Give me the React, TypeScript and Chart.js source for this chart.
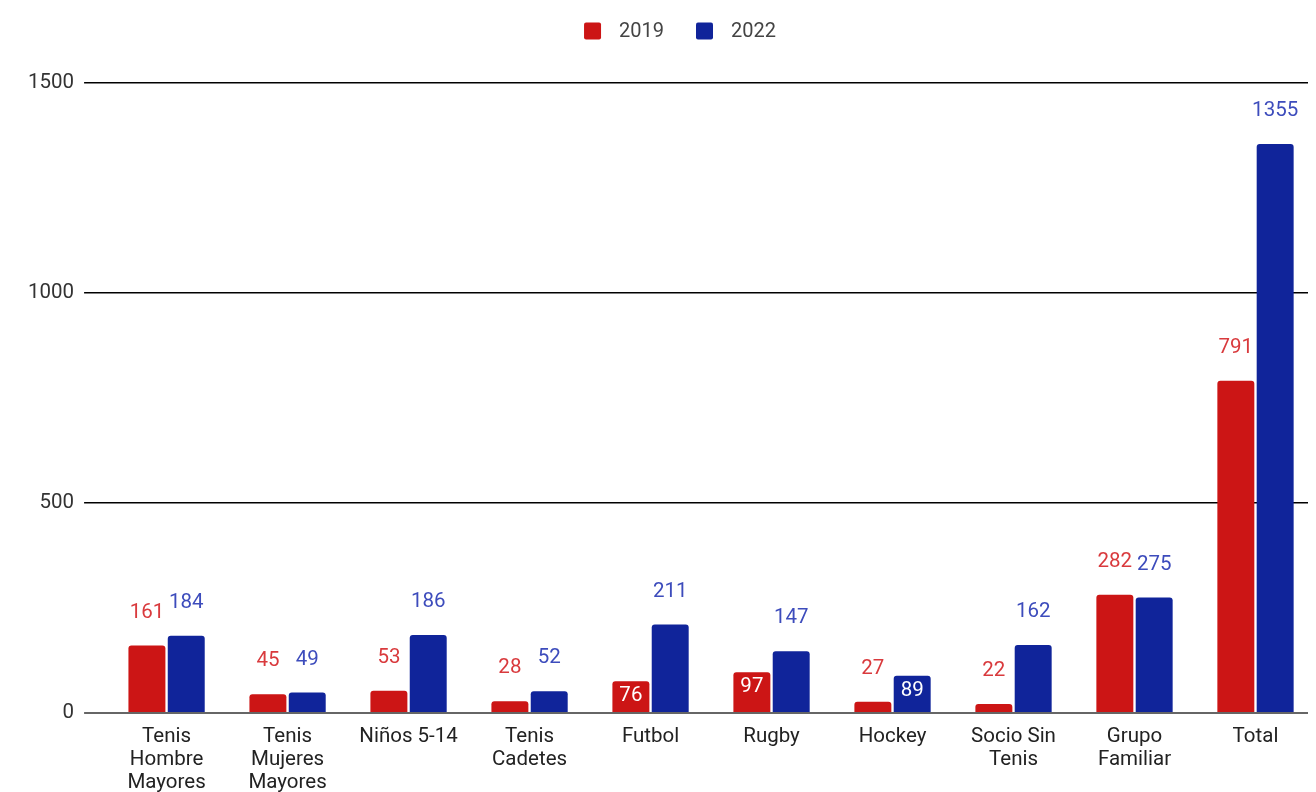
import React, { useEffect, useRef } from "react";
import { Chart, registerables } from "chart.js";

Chart.register(...registerables);

const categories: string[][] = [
  ["Tenis", "Hombre", "Mayores"],
  ["Tenis", "Mujeres", "Mayores"],
  ["Niños 5-14"],
  ["Tenis", "Cadetes"],
  ["Futbol"],
  ["Rugby"],
  ["Hockey"],
  ["Socio Sin", "Tenis"],
  ["Grupo", "Familiar"],
  ["Total"],
];
const values2019 = [161, 45, 53, 28, 76, 97, 27, 22, 282, 791];
const values2022 = [184, 49, 186, 52, 211, 147, 89, 162, 275, 1355];
const seriesNames = ["2019", "2022"];
const yTicks = [0, 500, 1000, 1500];

// label placement: which bars carry their value label inside the bar
const insideLabels: Record<number, number[]> = { 0: [4, 5], 1: [6] };

const barColors = ["#cc1515", "#10249a"];
const labelColors = ["#d93a3d", "#3d4cbc"];
const FONT = "Roboto";

const valueLabelPlugin = {
  id: "valueLabels",
  afterDatasetsDraw(chart: any) {
    const ctx = chart.ctx;
    ctx.save();
    ctx.font = `20.5px ${FONT}`;
    ctx.textAlign = "center";
    ctx.textBaseline = "middle";
    chart.data.datasets.forEach((ds: any, di: number) => {
      const meta = chart.getDatasetMeta(di);
      meta.data.forEach((bar: any, i: number) => {
        const v = ds.data[i];
        const inside = (insideLabels[di] || []).includes(i);
        if (inside) {
          ctx.fillStyle = "#ffffff";
          ctx.fillText(String(v), bar.x, bar.y + 15);
        } else {
          ctx.fillStyle = labelColors[di];
          ctx.fillText(String(v), bar.x, bar.y - 33);
        }
      });
    });
    ctx.restore();
  },
};

const customLegend = {
  id: "customLegend",
  afterDraw(chart: any) {
    const ctx = chart.ctx;
    ctx.save();
    ctx.font = `20px ${FONT}`;
    ctx.textBaseline = "middle";
    ctx.textAlign = "left";
    const box = 17;
    const gap = 18;
    const between = 32;
    const widths = seriesNames.map((n) => box + gap + ctx.measureText(n).width);
    const total = widths.reduce((a, b) => a + b, 0) + between * (widths.length - 1);
    let x = 672 - total / 2;
    const y = 23;
    seriesNames.forEach((n, i) => {
      ctx.fillStyle = barColors[i];
      ctx.beginPath();
      (ctx as any).roundRect(x, y - box / 2, box, box, 2);
      ctx.fill();
      ctx.fillStyle = "#444";
      ctx.fillText(n, x + box + gap, y + 1);
      x += widths[i] + between;
    });
    ctx.restore();
  },
};

export default function App() {
  const ref = useRef<HTMLCanvasElement>(null);
  useEffect(() => {
    if (!ref.current) return;
    Chart.defaults.font.family = FONT;
    const chart = new Chart(ref.current, {
      type: "bar",
      data: {
        labels: categories,
        datasets: [
          {
            label: seriesNames[0],
            data: values2019,
            backgroundColor: barColors[0],
            borderRadius: 3,
            borderSkipped: "bottom",
            categoryPercentage: 0.65,
            barPercentage: 0.94,
          },
          {
            label: seriesNames[1],
            data: values2022,
            backgroundColor: barColors[1],
            borderRadius: 3,
            borderSkipped: "bottom",
            categoryPercentage: 0.65,
            barPercentage: 0.94,
          },
        ],
      },
      options: {
        responsive: false,
        animation: false,
        layout: { padding: { left: 10, right: 0, top: 75, bottom: 0 } },
        plugins: {
          legend: { display: false },
          tooltip: { enabled: false },
        },
        scales: {
          x: {
            grid: { display: false, drawTicks: false },
            border: { display: false },
            ticks: {
              color: "#222",
              font: { size: 20.5, lineHeight: 1.12 },
              padding: 12,
              maxRotation: 0,
              autoSkip: false,
            },
          },
          y: {
            min: 0,
            max: 1500,
            afterBuildTicks(axis: any) {
              axis.ticks = yTicks.map((v) => ({ value: v }));
            },
            border: { display: false },
            grid: {
              color: (c: any) => (c.tick && c.tick.value === 0 ? "#666" : "#000"),
              lineWidth: (c: any) => (c.tick && c.tick.value === 0 ? 2 : 1.5),
              tickLength: 22,
              drawTicks: true,
            },
            ticks: {
              color: "#333",
              font: { size: 20.5 },
              padding: 10,
              callback: (v: any) => String(v),
            },
          },
        },
      },
      plugins: [valueLabelPlugin, customLegend],
    });
    return () => chart.destroy();
  }, []);
  return <canvas ref={ref} width={1308} height={798} style={{ display: "block" }} />;
}
